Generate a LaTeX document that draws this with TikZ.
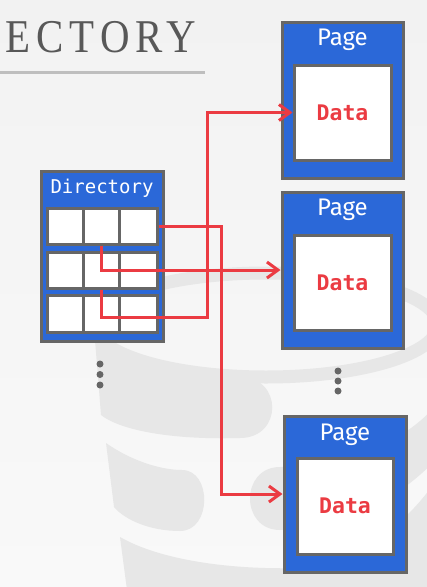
\documentclass[tikz,border=0pt]{standalone}
\usepackage{fontspec}
\setmainfont{Liberation Serif}
\newfontfamily\titlefont[LetterSpace=15]{Liberation Serif}
\newfontfamily\labelfont{Fira Sans}
\newfontfamily\codefont{DejaVu Sans Mono}
\usetikzlibrary{arrows.meta}
\definecolor{bgtop}{RGB}{242,242,242}
\definecolor{bgbot}{RGB}{249,249,249}
\definecolor{wm}{RGB}{231,231,231}
\definecolor{blu}{RGB}{43,104,216}
\definecolor{bord}{RGB}{102,102,102}
\definecolor{redc}{RGB}{235,59,66}
\definecolor{titlec}{RGB}{88,88,88}
\definecolor{rulec}{RGB}{190,190,190}
\tikzset{
  outerbox/.style={draw=bord, line width=3pt, fill=blu, inner sep=0pt},
  cellbox/.style={draw=bord, line width=3pt, fill=white, inner sep=0pt, minimum height=36pt},
  databox/.style={draw=bord, line width=3pt, fill=white, inner sep=0pt, text=redc,
    font=\codefont\bfseries\fontsize{21.5}{22}\selectfont},
  pagelabel/.style={text=white, inner sep=0pt, font=\labelfont\fontsize{24}{24}\selectfont},
  dirlabel/.style={text=white, inner sep=0pt, font=\codefont\fontsize{19}{19}\selectfont},
  link/.style={draw=redc, line width=3pt, -{Straight Barb[length=11pt,width=16pt]}},
  dot/.style={circle, fill=bord, inner sep=0pt, minimum size=7pt}
}
\begin{document}
\begin{tikzpicture}[x=1pt,y=-1pt]
\useasboundingbox (0,0) rectangle (427,587);
\shade[top color=bgtop, bottom color=bgbot] (0,0) rectangle (427,587);
% watermark
\draw[wm, line width=13pt] (266,325) ellipse (172 and 52);
\fill[wm] (95,340) .. controls (120,368) and (180,377) .. (240,377)
  .. controls (283,377) and (283,438) .. (240,438)
  .. controls (170,440) and (120,430) .. (101,415) -- cycle;
\fill[wm] (106,443) .. controls (130,460) and (160,470) .. (182,470)
  .. controls (212,470) and (212,531) .. (180,531)
  .. controls (150,531) and (125,520) .. (114,507) -- cycle;
\fill[wm] (280,467) .. controls (350,466) and (410,440) .. (440,400)
  -- (440,455) .. controls (400,500) and (340,530) .. (280,530)
  .. controls (240,530) and (240,467) .. (280,467) -- cycle;
\fill[wm] (120,537) .. controls (160,560) and (230,570) .. (300,568)
  .. controls (360,565) and (410,520) .. (440,475)
  -- (440,590) -- (127,590) -- cycle;
% title
\node[anchor=base west, inner sep=0pt, text=titlec, font=\titlefont\fontsize{47}{47}\selectfont] (title) at (5,52) {\scalebox{0.87}[1]{ECTORY}};
\draw[rulec, line width=3pt] (0,72) -- (205,72);
% directory
\node[outerbox, minimum width=122pt, minimum height=170pt] (dir) at (102,256) {};
\node[dirlabel] (dirlab) at (102,188) {Directory};
\node[cellbox, minimum width=36pt] (c11) at (65,226) {};
\node[cellbox, minimum width=36pt] (c12) at (101,226) {};
\node[cellbox, minimum width=38pt] (c13) at (138,226) {};
\node[cellbox, minimum width=36pt] (c21) at (65,270) {};
\node[cellbox, minimum width=36pt] (c22) at (101,270) {};
\node[cellbox, minimum width=38pt] (c23) at (138,270) {};
\node[cellbox, minimum width=36pt, minimum height=37pt] (c31) at (65,313.5) {};
\node[cellbox, minimum width=36pt, minimum height=37pt] (c32) at (101,313.5) {};
\node[cellbox, minimum width=38pt, minimum height=37pt] (c33) at (138,313.5) {};
% pages
\node[outerbox, minimum width=121pt, minimum height=156pt] (p1) at (342.5,100) {};
\node[pagelabel] (p1lab) at (342.5,40) {Page};
\node[databox, minimum width=97pt, minimum height=95pt] (d1) at (342.5,112.5) {Data};
\node[outerbox, minimum width=121pt, minimum height=156pt] (p2) at (342.5,270) {};
\node[pagelabel] (p2lab) at (342.5,210) {Page};
\node[databox, minimum width=97pt, minimum height=95pt] (d2) at (342.5,282.5) {Data};
\node[outerbox, minimum width=122pt, minimum height=156pt] (p3) at (345,494) {};
\node[pagelabel] (p3lab) at (345,435) {Page};
\node[databox, minimum width=96pt, minimum height=96pt] (d3) at (345,506) {Data};
% dots
\node[dot] (l1) at (100,364) {};
\node[dot] (l2) at (100,374.5) {};
\node[dot] (l3) at (100,385) {};
\node[dot] (r1) at (338,371) {};
\node[dot] (r2) at (338,381) {};
\node[dot] (r3) at (338,391) {};
% links
\coordinate (j1) at (221,226);
\coordinate (j2) at (207,317);
\draw[link] (c13.east) -- (j1) |- (p3.west);
\draw[link] (c12.south) |- (p2.west);
\draw[link] (c22.south) |- (j2) |- (d1.west);
\end{tikzpicture}
\end{document}
